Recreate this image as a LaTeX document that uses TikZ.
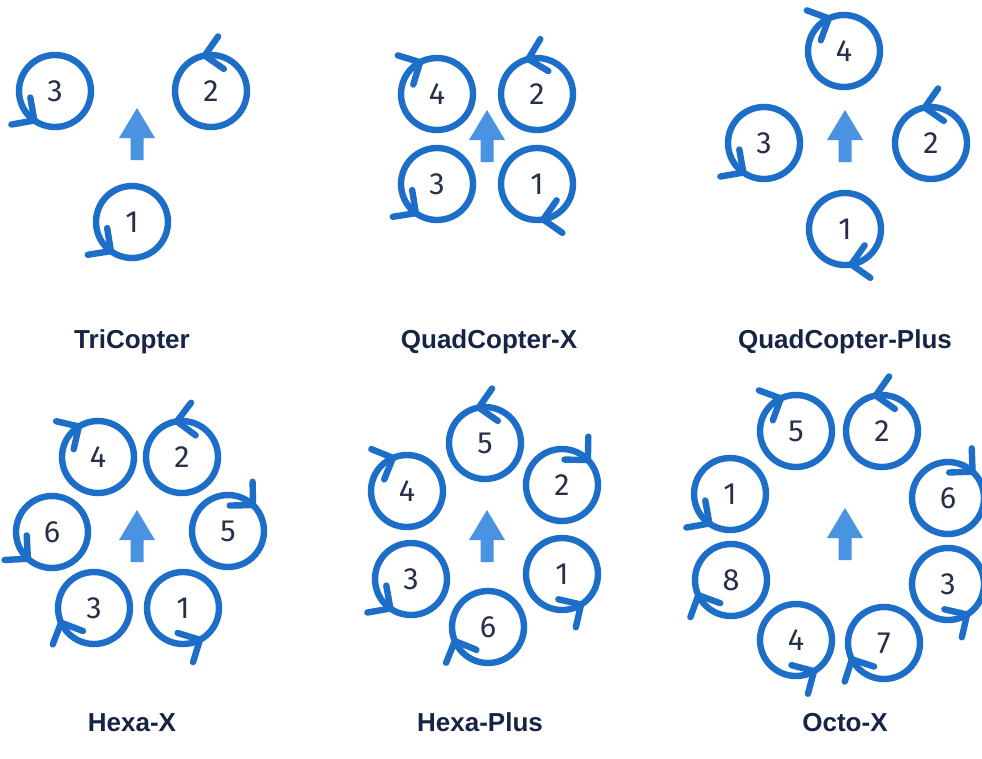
\documentclass[tikz,border=0pt]{standalone}
\usepackage{fontspec}
\setmainfont{Liberation Sans}
\newfontfamily\digitfont{Fira Sans}
\definecolor{rotorblue}{RGB}{28,110,200}
\definecolor{headblue}{RGB}{74,146,226}
\definecolor{digitnavy}{RGB}{38,48,72}
\definecolor{labelnavy}{RGB}{22,36,70}
\newcommand{\ccwtip}[2]{\draw[chev] ([shift=({#2-45}:17.5pt)]#1.#2) -- (#1.#2) -- ([shift=({#2-135}:17.5pt)]#1.#2);}
\newcommand{\cwtip}[2]{\draw[chev] ([shift=({#2+45}:17.5pt)]#1.#2) -- (#1.#2) -- ([shift=({#2+135}:17.5pt)]#1.#2);}

\begin{document}
\begin{tikzpicture}[x=0.75pt,y=-0.75pt,
 rotor/.style={draw=rotorblue,circle,line width=4.8pt,minimum size=54pt,inner sep=0pt,outer sep=0pt,text=digitnavy,font=\digitfont\fontsize{23}{23}\selectfont},
 chev/.style={draw=rotorblue,line width=4.8pt,line cap=round,line join=round},
 title/.style={anchor=base,text=labelnavy,font=\fontsize{19.5}{20}\selectfont\bfseries},
 heading/.pic={\fill[headblue] (0,0) -- (18,30) -- (6.5,30) -- (6.5,52) -- (-6.5,52) -- (-6.5,30) -- (-18,30) -- cycle;}]
\path[use as bounding box,fill=white] (0,0) rectangle (982,758);
% TriCopter
\node[rotor] (t3) at (55,91) {3}; \node[rotor] (t2) at (211,91) {2}; \node[rotor] (t1) at (132,222) {1};
\ccwtip{t3}{235} \ccwtip{t2}{100} \ccwtip{t1}{234}
\pic at (137,108) {heading};
\node[title] (lbltri) at (132,348) {TriCopter};
% QuadCopter-X
\node[rotor] (qx4) at (437,94) {4}; \node[rotor] (qx2) at (537,94) {2};
\node[rotor] (qx3) at (437,184) {3}; \node[rotor] (qx1) at (537,184) {1};
\cwtip{qx4}{118} \ccwtip{qx2}{104} \ccwtip{qx3}{234} \cwtip{qx1}{280}
\pic at (487,110) {heading};
\node[title] (lblquadx) at (489,348) {QuadCopter-X};
% QuadCopter-Plus
\node[rotor] (qp4) at (844,51) {4}; \node[rotor] (qp3) at (764,143) {3};
\node[rotor] (qp2) at (931,143) {2}; \node[rotor] (qp1) at (845,229) {1};
\cwtip{qp4}{115} \ccwtip{qp3}{235} \ccwtip{qp2}{100} \cwtip{qp1}{280}
\pic at (845,110) {heading};
\node[title] (lblquadplus) at (845,348) {QuadCopter-Plus};
% Hexa-X
\node[rotor] (hx4) at (98,457) {4}; \node[rotor] (hx2) at (182,457) {2};
\node[rotor] (hx6) at (52,532) {6}; \node[rotor] (hx5) at (228,531) {5};
\node[rotor] (hx3) at (94,608) {3}; \node[rotor] (hx1) at (183,608) {1};
\cwtip{hx4}{122} \ccwtip{hx2}{98} \ccwtip{hx6}{228} \cwtip{hx5}{46} \cwtip{hx3}{204} \ccwtip{hx1}{298}
\pic at (137,510) {heading};
\node[title] (lblhexax) at (132,731) {Hexa-X};
% Hexa-Plus
\node[rotor] (hp5) at (485,443) {5}; \node[rotor] (hp4) at (407,491) {4};
\node[rotor] (hp2) at (562,485) {2}; \node[rotor] (hp3) at (411,579) {3};
\node[rotor] (hp1) at (562,574) {1}; \node[rotor] (hp6) at (488,627) {6};
\ccwtip{hp5}{100} \cwtip{hp4}{113} \cwtip{hp2}{44} \ccwtip{hp3}{235} \ccwtip{hp1}{302} \cwtip{hp6}{203}
\pic at (487,510) {heading};
\node[title] (lblhexaplus) at (480,731) {Hexa-Plus};
% Octo-X
\node[rotor] (o5) at (796,431) {5}; \node[rotor] (o2) at (882,431) {2};
\node[rotor] (o1) at (730,494) {1}; \node[rotor] (o6) at (948,498) {6};
\node[rotor] (o8) at (731,580) {8}; \node[rotor] (o3) at (948,584) {3};
\node[rotor] (o4) at (796,640) {4}; \node[rotor] (o7) at (884,643) {7};
\cwtip{o5}{115} \ccwtip{o2}{100} \ccwtip{o1}{235} \cwtip{o6}{47}
\cwtip{o8}{205} \ccwtip{o3}{302} \ccwtip{o4}{300} \cwtip{o7}{207}
\pic at (845,508) {heading};
\node[title] (lbloctox) at (845,731) {Octo-X};
\end{tikzpicture}
\end{document}
